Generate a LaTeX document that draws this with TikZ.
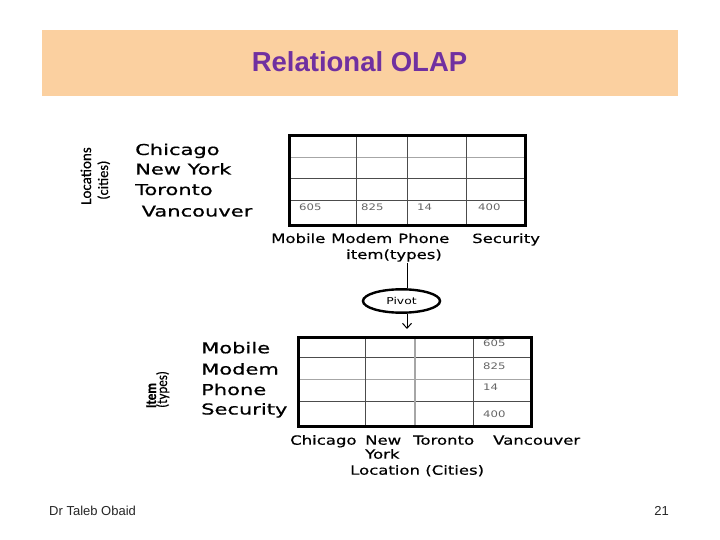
\documentclass[tikz,border=0pt]{standalone}
\usepackage{fontspec}
\setmainfont{Liberation Sans}
\newfontfamily\wideA[FakeStretch=1.4,FakeBold=0.6]{DejaVu Sans}
\newfontfamily\wideB[FakeStretch=1.3,FakeBold=0.5]{DejaVu Sans}
\newfontfamily\wideC[FakeStretch=1.3]{DejaVu Sans}
\newfontfamily\carl[FakeBold=0.4]{Carlito}
\newfontfamily\carlN[FakeStretch=0.87,FakeBold=0.4]{Carlito}
\usetikzlibrary{shapes.geometric,arrows.meta}
\definecolor{bandc}{HTML}{FBD0A0}
\definecolor{titlec}{HTML}{7030A0}
\tikzset{
  lab/.style={anchor=base west, inner sep=0, font=\wideA\fontsize{15bp}{18bp}\selectfont},
  sub/.style={anchor=base west, inner sep=0, font=\wideB\fontsize{12.7bp}{15bp}\selectfont},
  num/.style={anchor=base west, inner sep=0, text=black!60, font=\wideC\fontsize{9bp}{11bp}\selectfont},
  rot/.style={anchor=base west, inner sep=0, rotate=90},
  tbl/.style={draw, line width=3bp, inner sep=0},
  gridd/.style={line width=0.9bp, draw=black!70},
  gridl/.style={line width=0.9bp, draw=black!35},
  conn/.style={line width=1bp, draw=black},
}
\begin{document}
\begin{tikzpicture}[x=1bp,y=-1bp]
\path[use as bounding box, fill=white] (0,0) rectangle (720,540);

% header band
\node[fill=bandc, minimum width=636bp, minimum height=66bp, inner sep=0] (band) at (360,63) {};
\node[anchor=base, inner sep=0, text=titlec, font=\bfseries\fontsize{27.5bp}{33bp}\selectfont] (title) at (359.5,72) {Relational OLAP};

% ---------- top table ----------
\draw[gridl] (289,157) -- (525,157);
\draw[gridd] (289,178) -- (525,178);
\draw[gridd] (289,200) -- (525,200);
\draw[gridd] (356,136) -- (356,226);
\draw[gridd] (407,136) -- (407,226);
\draw[gridd] (466,136) -- (466,226);
\node[tbl, minimum width=236bp, minimum height=90bp] (ta) at (407,181) {};
\node[num] (a1) at (299,211) {605};
\node[num] (a2) at (361,211) {825};
\node[num] (a3) at (417,211) {14};
\node[num] (a4) at (478,211) {400};

\node[lab] (r1) at (135,155) {Chicago};
\node[lab] (r2) at (135,174.5) {New York};
\node[lab] (r3) at (135,195) {Toronto};
\node[lab] (r4) at (141.5,216.5) {Vancouver};
\node[rot, font=\carl\fontsize{15bp}{18bp}\selectfont] (locA) at (91,205) {Locations};
\node[rot, font=\carl\fontsize{14.5bp}{18bp}\selectfont] (locB) at (108,200) {(cities)};

\node[sub] (k1) at (271,243) {Mobile};
\node[sub] (k2) at (331,243) {Modem};
\node[sub] (k3) at (398,243) {Phone};
\node[sub] (k4) at (472,243) {Security};
\node[sub] (ktitle) at (346,259) {item(types)};

% ---------- pivot ----------
\node[ellipse, draw, line width=2.4bp, minimum width=77bp, minimum height=23.4bp, inner sep=0,
      font=\wideC\fontsize{9.5bp}{11bp}\selectfont] (pivot) at (401.5,301) {Pivot};
\coordinate (c1) at (407,263);
\coordinate (c2) at (407,329);
\draw[conn] (c1) -- (c1 |- pivot.north);
\draw[conn, -{Straight Barb[length=5bp,width=9bp]}] (c1 |- pivot.south) -- (c2);

% ---------- bottom table ----------
\draw[gridd] (298,357) -- (531,357);
\draw[gridl] (298,379) -- (531,379);
\draw[gridd] (298,401) -- (531,401);
\draw[gridd] (365,337) -- (365,426);
\draw[line width=1.6bp, draw=black!35] (415,337) -- (415,426);
\draw[gridd] (473,337) -- (473,426);
\node[tbl, minimum width=233bp, minimum height=89bp] (tb) at (414.5,381.5) {};
\node[num] (b1) at (483,346.7) {605};
\node[num] (b2) at (483,369) {825};
\node[num] (b3) at (483,390) {14};
\node[num] (b4) at (483,417.5) {400};

\node[lab] (s1) at (201,353.3) {Mobile};
\node[lab] (s2) at (201,374.5) {Modem};
\node[lab] (s3) at (201,395) {Phone};
\node[lab] (s4) at (201,414.5) {Security};
\node[rot, font=\carlN\bfseries\fontsize{15bp}{18bp}\selectfont] (itA) at (156,408.3) {Item};
\node[rot, font=\carlN\fontsize{15bp}{18bp}\selectfont] (itB) at (167,408) {(types)};

\node[sub] (m1) at (290,444.7) {Chicago};
\node[sub] (m2) at (365,444.7) {New};
\node[sub] (m2b) at (365,458.7) {York};
\node[sub] (m3) at (413,444.7) {Toronto};
\node[sub] (m4) at (493,444.7) {Vancouver};
\node[sub] (mtitle) at (350,474.7) {Location (Cities)};

% ---------- footer ----------
\node[anchor=base west, inner sep=0, text=black!85, font=\fontsize{13bp}{15bp}\selectfont] (author) at (49,515) {Dr Taleb Obaid};
\node[anchor=base east, inner sep=0, text=black!85, font=\fontsize{13bp}{15bp}\selectfont] (page) at (669,515) {21};
\end{tikzpicture}
\end{document}
